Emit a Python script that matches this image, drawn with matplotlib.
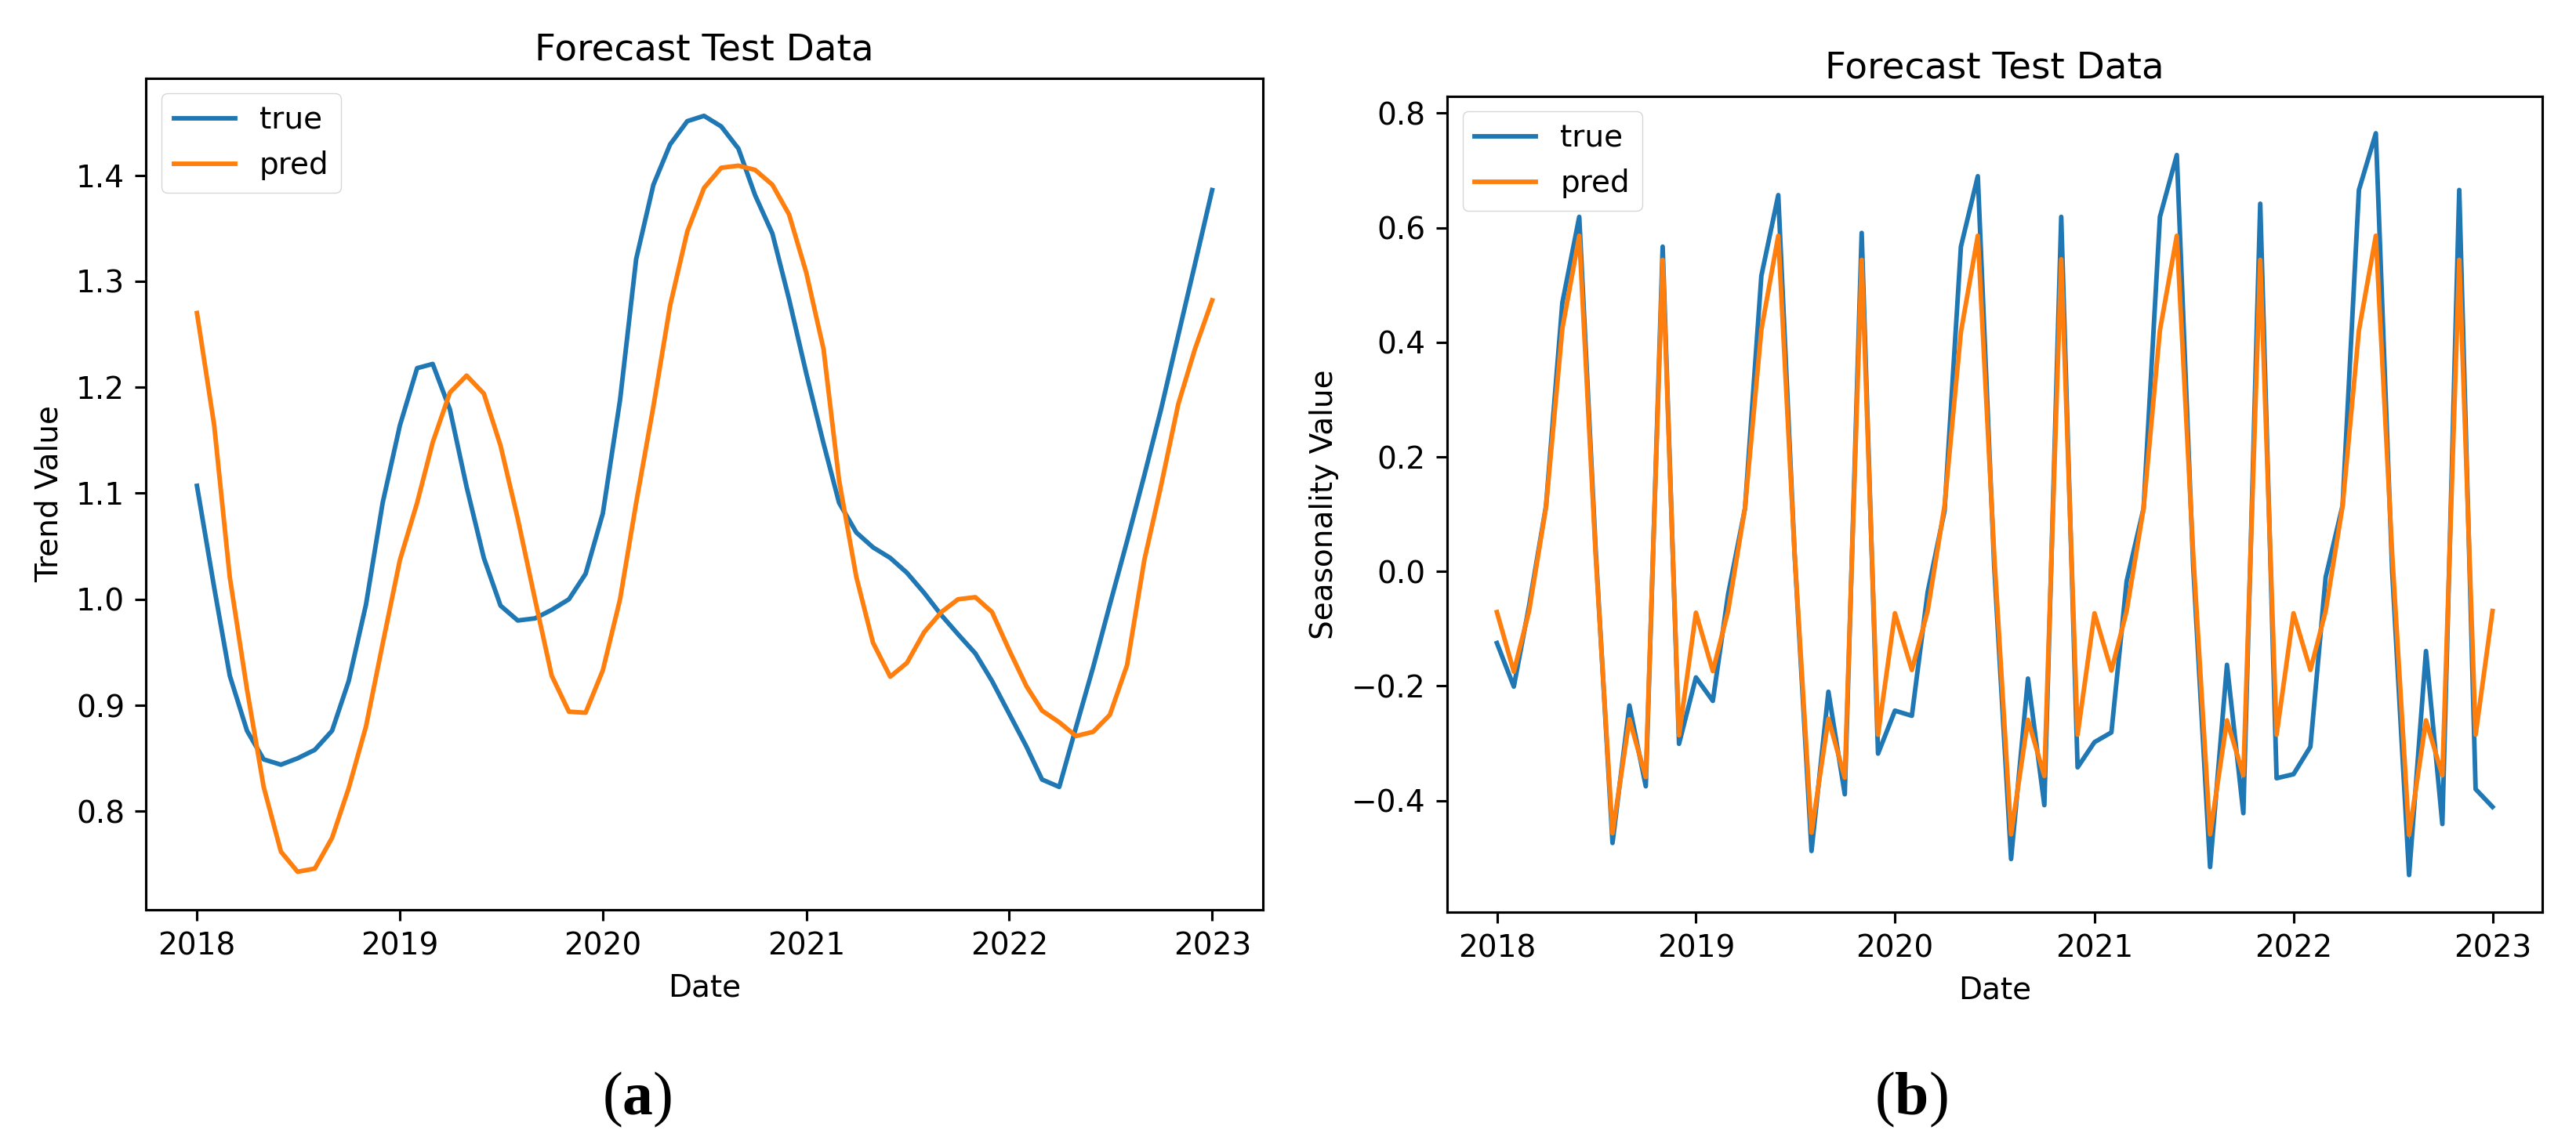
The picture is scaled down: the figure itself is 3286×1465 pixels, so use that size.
import matplotlib
matplotlib.use("Agg")
import matplotlib.pyplot as plt
import matplotlib.dates as mdates
import pandas as pd

# ---- data -------------------------------------------------------------
dates = pd.date_range("2018-01-01", periods=61, freq="MS")

trend_true = [1.107, 1.011, 0.928, 0.876, 0.849, 0.844, 0.850, 0.858, 0.876, 0.923,
              0.995, 1.091, 1.164, 1.218, 1.222, 1.179, 1.106, 1.039, 0.994, 0.980,
              0.982, 0.990, 1.000, 1.024, 1.081, 1.188, 1.321, 1.391, 1.429, 1.451,
              1.456, 1.446, 1.425, 1.381, 1.345, 1.283, 1.213, 1.147, 1.091, 1.063,
              1.049, 1.039, 1.025, 1.006, 0.985, 0.967, 0.949, 0.923, 0.892, 0.861,
              0.830, 0.823, 0.879, 0.936, 0.995, 1.055, 1.117, 1.179, 1.249, 1.316,
              1.386]
trend_pred = [1.270, 1.164, 1.021, 0.915, 0.823, 0.762, 0.743, 0.746, 0.775, 0.822,
              0.880, 0.958, 1.037, 1.091, 1.148, 1.195, 1.211, 1.194, 1.145, 1.076,
              1.000, 0.928, 0.894, 0.893, 0.933, 1.000, 1.091, 1.182, 1.277, 1.347,
              1.388, 1.407, 1.409, 1.405, 1.391, 1.363, 1.308, 1.236, 1.112, 1.021,
              0.959, 0.927, 0.940, 0.969, 0.988, 1.000, 1.002, 0.988, 0.952, 0.918,
              0.895, 0.884, 0.871, 0.875, 0.891, 0.938, 1.037, 1.107, 1.184, 1.236,
              1.282]

season_true = [-0.125, -0.201, -0.060, 0.114, 0.469, 0.619, 0.040, -0.474, -0.234, -0.375,
               0.567, -0.301, -0.185, -0.226, -0.040, 0.110, 0.516, 0.657, 0.030, -0.488,
               -0.210, -0.389, 0.591, -0.318, -0.243, -0.252, -0.036, 0.106, 0.567, 0.690,
               0.010, -0.502, -0.187, -0.408, 0.619, -0.342, -0.298, -0.281, -0.017, 0.110,
               0.619, 0.727, 0.010, -0.516, -0.163, -0.422, 0.642, -0.361, -0.354, -0.306,
               -0.010, 0.115, 0.666, 0.765, 0.000, -0.530, -0.139, -0.441, 0.666, -0.380,
               -0.411]
season_pred = [-0.071, -0.175, -0.069, 0.112, 0.424, 0.586, 0.030, -0.457, -0.258, -0.359,
               0.544, -0.286, -0.072, -0.174, -0.069, 0.111, 0.422, 0.586, 0.031, -0.456,
               -0.257, -0.360, 0.544, -0.285, -0.073, -0.172, -0.069, 0.115, 0.418, 0.586,
               0.030, -0.459, -0.259, -0.357, 0.545, -0.285, -0.073, -0.173, -0.069, 0.110,
               0.421, 0.586, 0.031, -0.459, -0.260, -0.356, 0.544, -0.285, -0.073, -0.172,
               -0.069, 0.114, 0.421, 0.586, 0.030, -0.460, -0.260, -0.356, 0.544, -0.285,
               -0.069]

title = "Forecast Test Data"
labels = ["true", "pred"]

# ---- style ------------------------------------------------------------
S = 2.81  # scale relative to default matplotlib sizes
plt.rcParams.update({
    "font.family": ["DejaVu Sans"],
    "font.size": 10 * S,
    "axes.titlesize": 12 * S,
    "axes.labelsize": 10 * S,
    "xtick.labelsize": 10 * S,
    "ytick.labelsize": 10 * S,
    "legend.fontsize": 10 * S,
    "axes.linewidth": 0.8 * S,
    "xtick.major.width": 0.8 * S,
    "ytick.major.width": 0.8 * S,
    "xtick.major.size": 3.5 * S,
    "ytick.major.size": 3.5 * S,
    "xtick.major.pad": 3.5 * S,
    "ytick.major.pad": 3.5 * S,
    "axes.titlepad": 6 * S,
    "axes.labelpad": 4 * S,
    "legend.edgecolor": "0.8",
    "mathtext.fontset": "custom",
    "mathtext.rm": "Liberation Serif",
    "mathtext.bf": "Liberation Serif:bold",
})

W, H = 3287, 1465
fig = plt.figure(figsize=(W / 100, H / 100), dpi=100)

def box(x0, y0, x1, y1):
    return [x0 / W, 1 - y1 / H, (x1 - x0) / W, (y1 - y0) / H]

ax1 = fig.add_axes(box(186.5, 99.6, 1611, 1160.7))
ax2 = fig.add_axes(box(1846, 122.7, 3243, 1164))

c_true, c_pred = "#1f77b4", "#ff7f0e"
LW = 1.5 * S

ax1.plot(dates, trend_true, color=c_true, lw=LW, label=labels[0])
ax1.plot(dates, trend_pred, color=c_pred, lw=LW, label=labels[1])
ax1.set_ylabel("Trend Value")

ax2.plot(dates, season_true, color=c_true, lw=LW, label=labels[0])
ax2.plot(dates, season_pred, color=c_pred, lw=LW, label=labels[1])
ax2.set_ylabel("Seasonality Value")

for ax in (ax1, ax2):
    ax.set_title(title)
    ax.set_xlabel("Date")
    ax.xaxis.set_major_locator(mdates.YearLocator())
    ax.xaxis.set_major_formatter(mdates.DateFormatter("%Y"))
    ax.legend(loc="upper left")

fig.text(813 / W, 1 - 1403 / H, r"($\mathbf{a}$)", ha="center", va="center",
         family="Liberation Serif", fontsize=56)
fig.text(2438 / W, 1 - 1403 / H, r"($\mathbf{b}$)", ha="center", va="center",
         family="Liberation Serif", fontsize=56)

fig.savefig("out.png", dpi=100)
